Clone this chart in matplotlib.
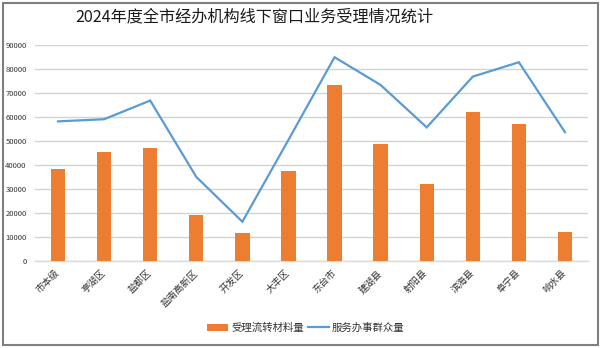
import matplotlib
matplotlib.use("Agg")
import matplotlib.pyplot as plt
from matplotlib.patches import Rectangle, Patch
from matplotlib.lines import Line2D
import numpy as np

plt.rcParams['font.family'] = ['Noto Sans CJK SC', 'DejaVu Sans']

categories = ['市本级', '亭湖区', '盐都区', '盐南高新区', '开发区', '大丰区',
              '东台市', '建湖县', '射阳县', '滨海县', '阜宁县', '响水县']
materials = [38100, 45500, 46900, 19200, 11400, 37500,
             73100, 48600, 31800, 61900, 56800, 12100]
people = [58100, 59000, 66800, 34900, 16200, 50400,
          84900, 73300, 55600, 76800, 82800, 53600]
yticks = [0, 10000, 20000, 30000, 40000, 50000, 60000, 70000, 80000, 90000]
title = '2024年度全市经办机构线下窗口业务受理情况统计'
legend_labels = ['受理流转材料量', '服务办事群众量']

orange = '#ED7D31'
blue = '#5B9BD5'

fig = plt.figure(figsize=(6.0, 3.48), dpi=100)
ax = fig.add_axes([35/600, 1-260.5/348, 553/600, (260.5-45)/348])

x = np.arange(len(categories))
ax.bar(x, materials, width=0.31, color=orange, zorder=3)
ax.plot(x, people, color=blue, lw=1.6, zorder=4, solid_joinstyle='miter')

ax.set_xlim(-0.5, len(categories) - 0.5)
ax.set_ylim(0, 90000)
ax.set_yticks(yticks)
ax.set_yticklabels([str(v) for v in yticks], fontsize=5.5, color='#333333')
ax.yaxis.grid(True, color='#CBD8CB', lw=1.0, zorder=0)
ax.set_axisbelow(True)
for s in ['top', 'right', 'left']:
    ax.spines[s].set_visible(False)
ax.spines['bottom'].set_color('#D9D9D9')
ax.spines['bottom'].set_linewidth(1.0)
ax.tick_params(axis='y', length=0, pad=6)
ax.tick_params(axis='x', length=0, pad=8)
ax.set_xticks(x)
ax.set_xticklabels(categories, rotation=45, ha='right', va='center',
                   rotation_mode='anchor', fontsize=6.8, color='#333333')

fig.text(254/600, 1-17/348, title, ha='center', va='center', fontsize=11.6,
         color='#1a1a1a', fontweight='medium')

handles = [Patch(facecolor=orange, edgecolor='none'),
           Line2D([0], [0], color=blue, lw=1.6)]
fig.legend(handles, legend_labels, loc='center', bbox_to_anchor=(306/600, 1-328/348),
           ncol=2, frameon=False, fontsize=7.5, handlelength=2.0, handleheight=0.8,
           columnspacing=0.4, handletextpad=0.3, labelcolor='#333333')

fig.patches.append(Rectangle((2.5/600, 1-345/348), 595/600, 342.5/348,
                             transform=fig.transFigure, fill=False,
                             edgecolor='#7F7F7F', lw=1.5))

fig.savefig('out.png', dpi=100)
